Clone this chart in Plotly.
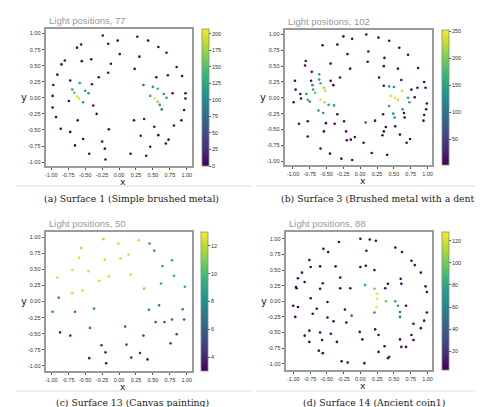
import plotly.graph_objects as go

# ---------------- data ----------------
# Panel (a) Surface 1, 77 lights
a_x = [-0.24,0.27,0.43,-0.56,-0.62,-0.16,-0.02,0.58,0.01,0.70,0.30,-0.80,-0.85,-0.55,-0.41,-0.12,0.23,0.85,-0.16,-0.91,
       -0.30,0.55,0.72,0.93,-0.97,-0.72,-0.58,-0.40,0.36,0.50,0.57,-0.69,-0.50,-0.66,-0.45,0.66,0.79,0.98,-0.62,-0.98,
       0.46,0.70,-0.59,0.52,-0.74,-0.53,0.57,0.98,0.60,0.63,-0.98,-0.38,-0.33,0.96,-0.93,-0.61,0.22,0.37,0.92,-0.86,
       -0.15,0.52,0.81,-0.72,0.32,0.58,-0.53,0.73,-0.25,0.69,-0.65,0.46,-0.21,-0.44,0.17,0.40,-0.20]
a_y = [0.97,0.95,0.89,0.83,0.78,0.84,0.89,0.79,0.68,0.70,0.64,0.58,0.52,0.57,0.60,0.53,0.45,0.48,0.39,0.36,
       0.32,0.32,0.35,0.34,0.20,0.27,0.23,0.21,0.20,0.17,0.14,0.13,0.11,0.08,0.07,0.06,0.07,0.07,0.02,0.03,
       0.03,0.00,-0.01,-0.01,-0.05,-0.07,-0.06,-0.01,-0.11,-0.18,-0.15,-0.12,-0.25,-0.19,-0.30,-0.35,-0.35,-0.33,-0.35,-0.48,
       -0.49,-0.45,-0.43,-0.53,-0.59,-0.58,-0.64,-0.65,-0.68,-0.71,-0.74,-0.76,-0.79,-0.87,-0.87,-0.90,-0.96]
a_v = [4,6,3,5,7,4,3,5,6,4,3,5,4,6,7,5,4,3,8,4,
       6,5,4,3,4,6,110,9,75,110,140,120,115,150,110,115,6,4,200,3,
       125,120,195,205,8,110,170,4,110,85,3,9,6,4,5,7,5,8,4,3,
       6,5,4,3,5,4,6,4,5,3,4,6,5,4,3,5,4]

# Panel (b) Surface 3, 102 lights
b_x = [0.09,-0.25,0.27,-0.12,0.43,-0.56,-0.34,0.58,0.12,-0.19,0.71,0.36,-0.81,-0.82,0.11,-0.44,0.35,-0.15,0.56,0.86,
       -0.72,-0.61,-0.30,0.28,-0.97,-0.73,-0.61,-0.44,0.61,0.95,-0.59,-0.71,-0.40,0.35,0.43,0.50,-0.54,0.85,0.97,-0.96,
       -0.70,-0.52,0.62,0.76,-0.67,-0.89,-0.80,-0.88,0.81,0.46,0.52,0.71,-0.78,0.56,-0.59,-0.75,0.73,-0.99,-0.53,-0.47,
       0.99,-0.39,0.43,0.98,0.63,-0.62,-0.55,0.65,0.49,-0.34,0.34,0.51,0.66,0.95,0.94,-0.78,-0.24,0.22,0.08,-0.91,
       -0.51,-0.38,0.38,0.52,-0.54,-0.21,0.35,0.33,0.59,-0.78,-0.08,-0.14,-0.20,0.74,0.69,0.05,-0.59,0.17,-0.45,0.40,
       -0.28,-0.12]
b_y = [1.00,0.97,0.95,0.93,0.90,0.83,0.84,0.79,0.73,0.69,0.68,0.63,0.58,0.51,0.57,0.54,0.50,0.46,0.46,0.47,
       0.41,0.37,0.32,0.32,0.27,0.27,0.29,0.27,0.28,0.25,0.23,0.20,0.20,0.19,0.18,0.17,0.16,0.16,0.16,0.13,
       0.13,0.11,0.11,0.13,0.08,0.06,0.06,-0.01,0.01,0.03,0.00,0.00,-0.03,-0.03,-0.03,-0.06,-0.07,-0.07,-0.07,-0.11,
       -0.09,-0.12,-0.13,-0.18,-0.18,-0.20,-0.24,-0.24,-0.25,-0.26,-0.26,-0.31,-0.31,-0.27,-0.36,-0.37,-0.37,-0.36,-0.39,-0.41,
       -0.40,-0.41,-0.46,-0.45,-0.53,-0.53,-0.53,-0.59,-0.58,-0.61,-0.62,-0.66,-0.67,-0.65,-0.71,-0.71,-0.80,-0.87,-0.88,-0.90,
       -0.96,-0.98]
b_v = [8,10,6,9,7,12,8,6,10,9,7,8,11,9,6,8,10,7,9,6,
       12,150,10,8,7,11,140,9,8,6,170,140,12,9,150,140,210,8,7,9,
       150,235,240,10,190,8,130,9,7,240,245,150,150,230,240,140,150,8,230,140,
       7,130,140,6,130,130,140,9,130,10,8,120,9,7,6,10,9,8,70,8,
       11,9,7,10,8,9,6,8,7,10,9,8,7,6,9,8,10,7,9,8,
       10,7]

# Panel (c) Surface 13, 50 lights
c_x = [-0.23,-0.01,0.29,0.45,-0.56,0.52,-0.59,0.14,-0.21,0.02,0.78,0.64,-0.69,-0.45,-0.91,-0.15,0.17,0.81,-0.29,0.62,
       -0.54,0.37,-0.69,0.97,-0.89,-0.37,0.59,-0.98,-0.65,0.44,0.94,0.54,0.67,0.78,0.96,-0.43,0.09,-0.87,-0.72,0.36,
       0.85,-0.26,0.11,0.76,-0.20,0.31,-0.44,0.18,0.42,-0.19]
c_y = [0.97,0.90,0.95,0.90,0.83,0.79,0.68,0.73,0.65,0.67,0.64,0.55,0.49,0.47,0.37,0.39,0.42,0.40,0.32,0.28,
       0.17,0.20,0.13,0.23,0.06,-0.11,-0.06,-0.16,-0.16,-0.13,-0.12,-0.32,-0.32,-0.28,-0.28,-0.41,-0.39,-0.48,-0.53,-0.53,
       -0.51,-0.68,-0.67,-0.65,-0.79,-0.80,-0.88,-0.87,-0.90,-0.96]
c_v = [11.8,12.3,12.2,9.0,11.6,8.4,12.4,12.2,12.4,12.3,9.0,9.0,12.3,12.3,12.3,12.4,12.3,9.0,12.4,9.4,
       12.4,11.6,12.3,9.0,8.2,8.0,7.2,8.0,6.5,7.6,7.2,6.0,6.0,6.0,6.0,7.0,6.0,4.0,4.2,5.0,
       5.0,4.2,5.2,5.0,3.8,4.2,3.9,4.0,3.8,3.6]

# Panel (d) Surface 14, 88 lights
d_x = [0.00,0.14,0.23,-0.32,-0.55,0.52,-0.48,0.09,0.62,-0.76,0.76,-0.74,-0.60,-0.37,0.00,0.08,0.81,0.21,-0.87,0.90,
       -0.93,-0.83,-0.30,0.60,0.61,-0.96,-0.95,-0.56,-0.30,-0.15,0.07,0.41,0.37,-0.60,0.21,0.97,0.99,0.25,0.25,0.38,
       0.52,-0.74,-0.49,-1.00,-0.93,0.24,0.56,0.68,-0.65,-0.23,-0.71,0.59,0.99,0.21,-0.13,-0.97,-0.49,0.59,-0.21,-0.40,
       0.95,0.79,0.22,-0.60,-0.01,-0.44,0.90,0.27,-0.83,-0.76,0.76,0.79,0.59,-0.76,-0.57,-0.35,0.03,0.36,0.61,0.68,
       -0.62,-0.56,0.27,0.41,0.43,-0.28,-0.19,0.06]
d_y = [1.00,0.99,0.97,0.95,0.84,0.86,0.79,0.81,0.79,0.66,0.65,0.55,0.56,0.56,0.55,0.57,0.58,0.50,0.46,0.46,
       0.37,0.31,0.38,0.36,0.28,0.23,0.21,0.29,0.21,0.21,0.26,0.28,0.21,0.20,0.20,0.24,0.15,0.12,0.04,0.00,
       0.00,0.05,-0.01,-0.07,-0.09,-0.09,-0.07,-0.07,-0.12,-0.13,-0.20,-0.17,-0.18,-0.18,-0.23,-0.25,-0.26,-0.25,-0.34,-0.32,
       -0.31,-0.36,-0.45,-0.50,-0.49,-0.52,-0.43,-0.54,-0.55,-0.47,-0.54,-0.62,-0.61,-0.65,-0.62,-0.65,-0.61,-0.72,-0.73,-0.73,
       -0.79,-0.83,-0.81,-0.91,-0.89,-0.96,-0.98,-0.99]
d_v = [5,4,6,5,4,6,5,7,4,5,6,4,5,6,5,4,6,5,4,5,
       6,4,5,6,5,4,6,5,4,6,75,5,4,6,100,5,4,125,126,100,
       75,5,6,4,5,125,70,5,4,6,5,55,4,65,45,5,6,60,4,5,
       6,5,4,6,5,4,6,5,4,5,6,4,5,6,4,5,6,5,4,6,
       5,4,6,15,20,5,4,6]

titles = ["Light positions, 77", "Light positions, 102", "Light positions, 50", "Light positions, 88"]
captions = ["(a) Surface 1 (Simple brushed metal)", "(b) Surface 3 (Brushed metal with a dent)",
            "(c) Surface 13 (Canvas painting)", "(d) Surface 14 (Ancient coin1)"]
cb_ticks = [[0, 25, 50, 75, 100, 125, 150, 175, 200], [50, 100, 150, 200, 250],
            [4, 6, 8, 10, 12], [20, 40, 60, 80, 100, 120]]
c_ranges = [(0, 207), (3, 252), (3, 13), (3, 128)]
axis_ticks = [-1.0, -0.75, -0.5, -0.25, 0.0, 0.25, 0.5, 0.75, 1.0]
axis_ticktext = ["-1.00", "-0.75", "-0.50", "-0.25", "0.00", "0.25", "0.50", "0.75", "1.00"]

# ---------------- layout (pixels) ----------------
W, H = 483, 407
def px(x): return x / W
def py(y): return 1 - y / H

# plot boxes: left, right, top, bottom (px)
boxes = [(37, 184, 21, 158), (277, 425, 22, 157), (37, 184, 224, 363), (278, 425, 224, 362)]
xranges = [(-1.08, 1.08), (-1.12, 1.07), (-1.08, 1.08), (-1.11, 1.07)]
yranges = [(-1.06, 1.07), (-1.06, 1.07), (-1.08, 1.08), (-1.10, 1.11)]
cbar_left = [194, 435, 193, 435]

data = [(a_x, a_y, a_v), (b_x, b_y, b_v), (c_x, c_y, c_v), (d_x, d_y, d_v)]

TICKFONT = dict(size=5.5, color="#333", family="Liberation Sans")

fig = go.Figure()
layout = dict(width=W, height=H, margin=dict(l=0, r=0, t=0, b=0),
              paper_bgcolor="white", plot_bgcolor="white", showlegend=False,
              annotations=[], shapes=[])

for i, (xs, ys, vs) in enumerate(data):
    l, r, t, b = boxes[i]
    sfx = "" if i == 0 else str(i + 1)
    fig.add_trace(go.Scatter(
        x=xs, y=ys, mode="markers", xaxis="x" + sfx, yaxis="y" + sfx,
        marker=dict(size=2.6, color=vs, colorscale="Viridis", cmin=c_ranges[i][0], cmax=c_ranges[i][1],
                    line=dict(width=0),
                    colorbar=dict(x=px(cbar_left[i]), xanchor="left", xpad=0, ypad=0,
                                  y=py(t), yanchor="top", len=(b - t) / H, lenmode="fraction",
                                  thickness=7, outlinewidth=0.8, outlinecolor="#888",
                                  tickvals=cb_ticks[i], ticks="outside", ticklen=2, tickcolor="#555",
                                  tickfont=TICKFONT))))
    common = dict(showline=True, mirror=True, linecolor="#9a9a9a", linewidth=1.5,
                  showgrid=False, zeroline=False, ticks="outside", ticklen=2.5, tickcolor="#555",
                  tickfont=TICKFONT, tickangle=0,
                  tickvals=axis_ticks, ticktext=axis_ticktext)
    layout["xaxis" + sfx] = dict(domain=[px(l), px(r)], range=list(xranges[i]),
                                 anchor="y" + sfx, **common)
    layout["yaxis" + sfx] = dict(domain=[py(b), py(t)], range=list(yranges[i]),
                                 anchor="x" + sfx, **common)
    # title
    layout["annotations"].append(dict(text=titles[i], x=px(l + 1), y=py(t - 8), xref="paper", yref="paper",
                                      xanchor="left", yanchor="middle", showarrow=False,
                                      font=dict(size=9.5, color="#999", family="Liberation Sans")))
    # axis labels
    layout["annotations"].append(dict(text="x", x=px((l + r) / 2 + 4), y=py(b + 16), xref="paper", yref="paper",
                                      xanchor="center", yanchor="middle", showarrow=False,
                                      font=dict(size=9, color="#222", family="DejaVu Sans")))
    layout["annotations"].append(dict(text="y", x=px(l - 22), y=py((t + b) / 2), xref="paper", yref="paper",
                                      xanchor="center", yanchor="middle", showarrow=False,
                                      font=dict(size=10, color="#222", family="DejaVu Sans")))

# captions and separator lines
cap_pos = [(123, 190), (372, 190), (124, 394), (367, 394)]
for i, cap in enumerate(captions):
    layout["annotations"].append(dict(text=cap, x=px(cap_pos[i][0]), y=py(cap_pos[i][1]), xref="paper", yref="paper",
                                      xanchor="center", yanchor="middle", showarrow=False,
                                      font=dict(size=9.3, color="#222", family="DejaVu Serif")))
for yline in (178, 383):
    for (x0, x1) in ((7, 244), (248, 483)):
        layout["shapes"].append(dict(type="line", xref="paper", yref="paper",
                                     x0=px(x0), x1=px(x1), y0=py(yline), y1=py(yline),
                                     line=dict(color="#dddddd", width=1)))

fig.update_layout(**layout)
fig.write_html("out.html")
